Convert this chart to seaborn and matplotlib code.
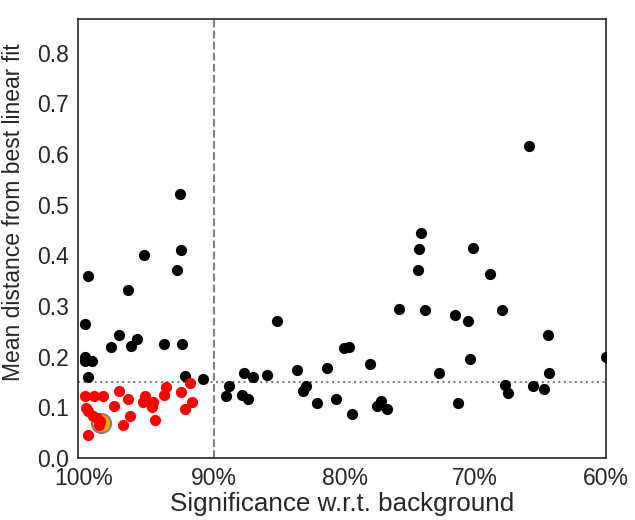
import matplotlib
matplotlib.use("Agg")
import matplotlib.pyplot as plt
import seaborn as sns
import pandas as pd
import numpy as np

# black points: significance (%) and mean distance
black_sig = [92.62, 92.57, 95.38, 92.83, 99.64, 96.58, 99.87, 97.27, 97.90, 96.37,
             95.93, 93.87, 92.44, 99.89, 99.89, 99.38, 99.64, 92.21, 90.88,
             89.10, 88.84, 87.89, 87.44, 87.74, 87.05, 85.96, 85.17, 83.64, 82.97,
             83.18, 82.11, 81.39, 80.67, 80.04, 79.68, 79.45, 78.09, 77.56, 77.25,
             76.79, 75.87, 74.17, 74.32, 74.40, 73.88, 72.79, 71.54, 71.33, 70.57,
             70.44, 70.18, 68.88, 67.99, 67.71, 67.50, 65.87, 65.54, 64.72, 64.44,
             64.34, 60.0]
black_dist = [0.521, 0.410, 0.400, 0.372, 0.360, 0.332, 0.264, 0.242, 0.219, 0.222,
              0.236, 0.226, 0.226, 0.199, 0.192, 0.192, 0.160, 0.162, 0.156,
              0.123, 0.143, 0.125, 0.116, 0.167, 0.161, 0.164, 0.271, 0.174, 0.143,
              0.133, 0.108, 0.178, 0.116, 0.217, 0.219, 0.087, 0.185, 0.102, 0.113,
              0.096, 0.294, 0.444, 0.412, 0.371, 0.292, 0.168, 0.283, 0.109, 0.271,
              0.196, 0.414, 0.364, 0.293, 0.144, 0.129, 0.616, 0.142, 0.136, 0.243,
              0.167, 0.200]

# red points (significant and close to a line)
red_sig = [99.89, 99.20, 98.54, 97.31, 96.58, 95.30, 95.47, 94.71, 94.77, 93.71,
           93.87, 92.54, 91.83, 91.72, 92.21, 97.70, 94.56, 96.45, 97.01, 99.82,
           99.64, 99.26, 99.00, 98.74, 98.87, 99.64]
red_dist = [0.123, 0.123, 0.123, 0.133, 0.117, 0.123, 0.111, 0.110, 0.100, 0.141,
            0.125, 0.131, 0.149, 0.111, 0.096, 0.102, 0.076, 0.083, 0.065, 0.098,
            0.093, 0.083, 0.080, 0.073, 0.065, 0.046]

# highlighted point
best_sig = [98.69]
best_dist = [0.069]

sig_cut = 90
dist_cut = 0.15
xticks = [100, 90, 80, 70, 60]
yticks = [0.0, 0.1, 0.2, 0.3, 0.4, 0.5, 0.6, 0.7, 0.8]

sns.set_style("white")
plt.rcParams['font.family'] = ['Liberation Sans', 'DejaVu Sans']

fig, ax = plt.subplots(figsize=(6.35, 5.2), dpi=100)
fig.subplots_adjust(left=0.1225, right=0.954, top=0.964, bottom=0.119)

sns.scatterplot(x=black_sig, y=black_dist, color='black', s=65, linewidth=0, ax=ax, zorder=3)
sns.scatterplot(x=best_sig, y=best_dist, color='orange', s=190, edgecolor='grey',
                linewidth=1.5, ax=ax, zorder=3)
sns.scatterplot(x=red_sig, y=red_dist, color='red', s=65, linewidth=0, ax=ax, zorder=4)

ax.axvline(sig_cut, color='grey', linestyle='--', linewidth=1.5, zorder=1)
ax.axhline(dist_cut, color='grey', linestyle=':', linewidth=1.5, zorder=1)

ax.set_xlim(100.46, 60)
ax.set_ylim(0, 0.867)
ax.set_xticks(xticks)
ax.set_xticklabels([f"{t}%" for t in xticks])
ax.set_yticks(yticks)
ax.tick_params(labelsize=16.5, pad=3)
ax.set_xlabel("Significance w.r.t. background", fontsize=18.7, labelpad=1)
ax.set_ylabel("Mean distance from best linear fit", fontsize=16.5)
ax.yaxis.set_label_coords(-0.1, 0.56)
for sp in ax.spines.values():
    sp.set_color('.15')
    sp.set_linewidth(1.2)

fig.savefig("out.png", dpi=100)
